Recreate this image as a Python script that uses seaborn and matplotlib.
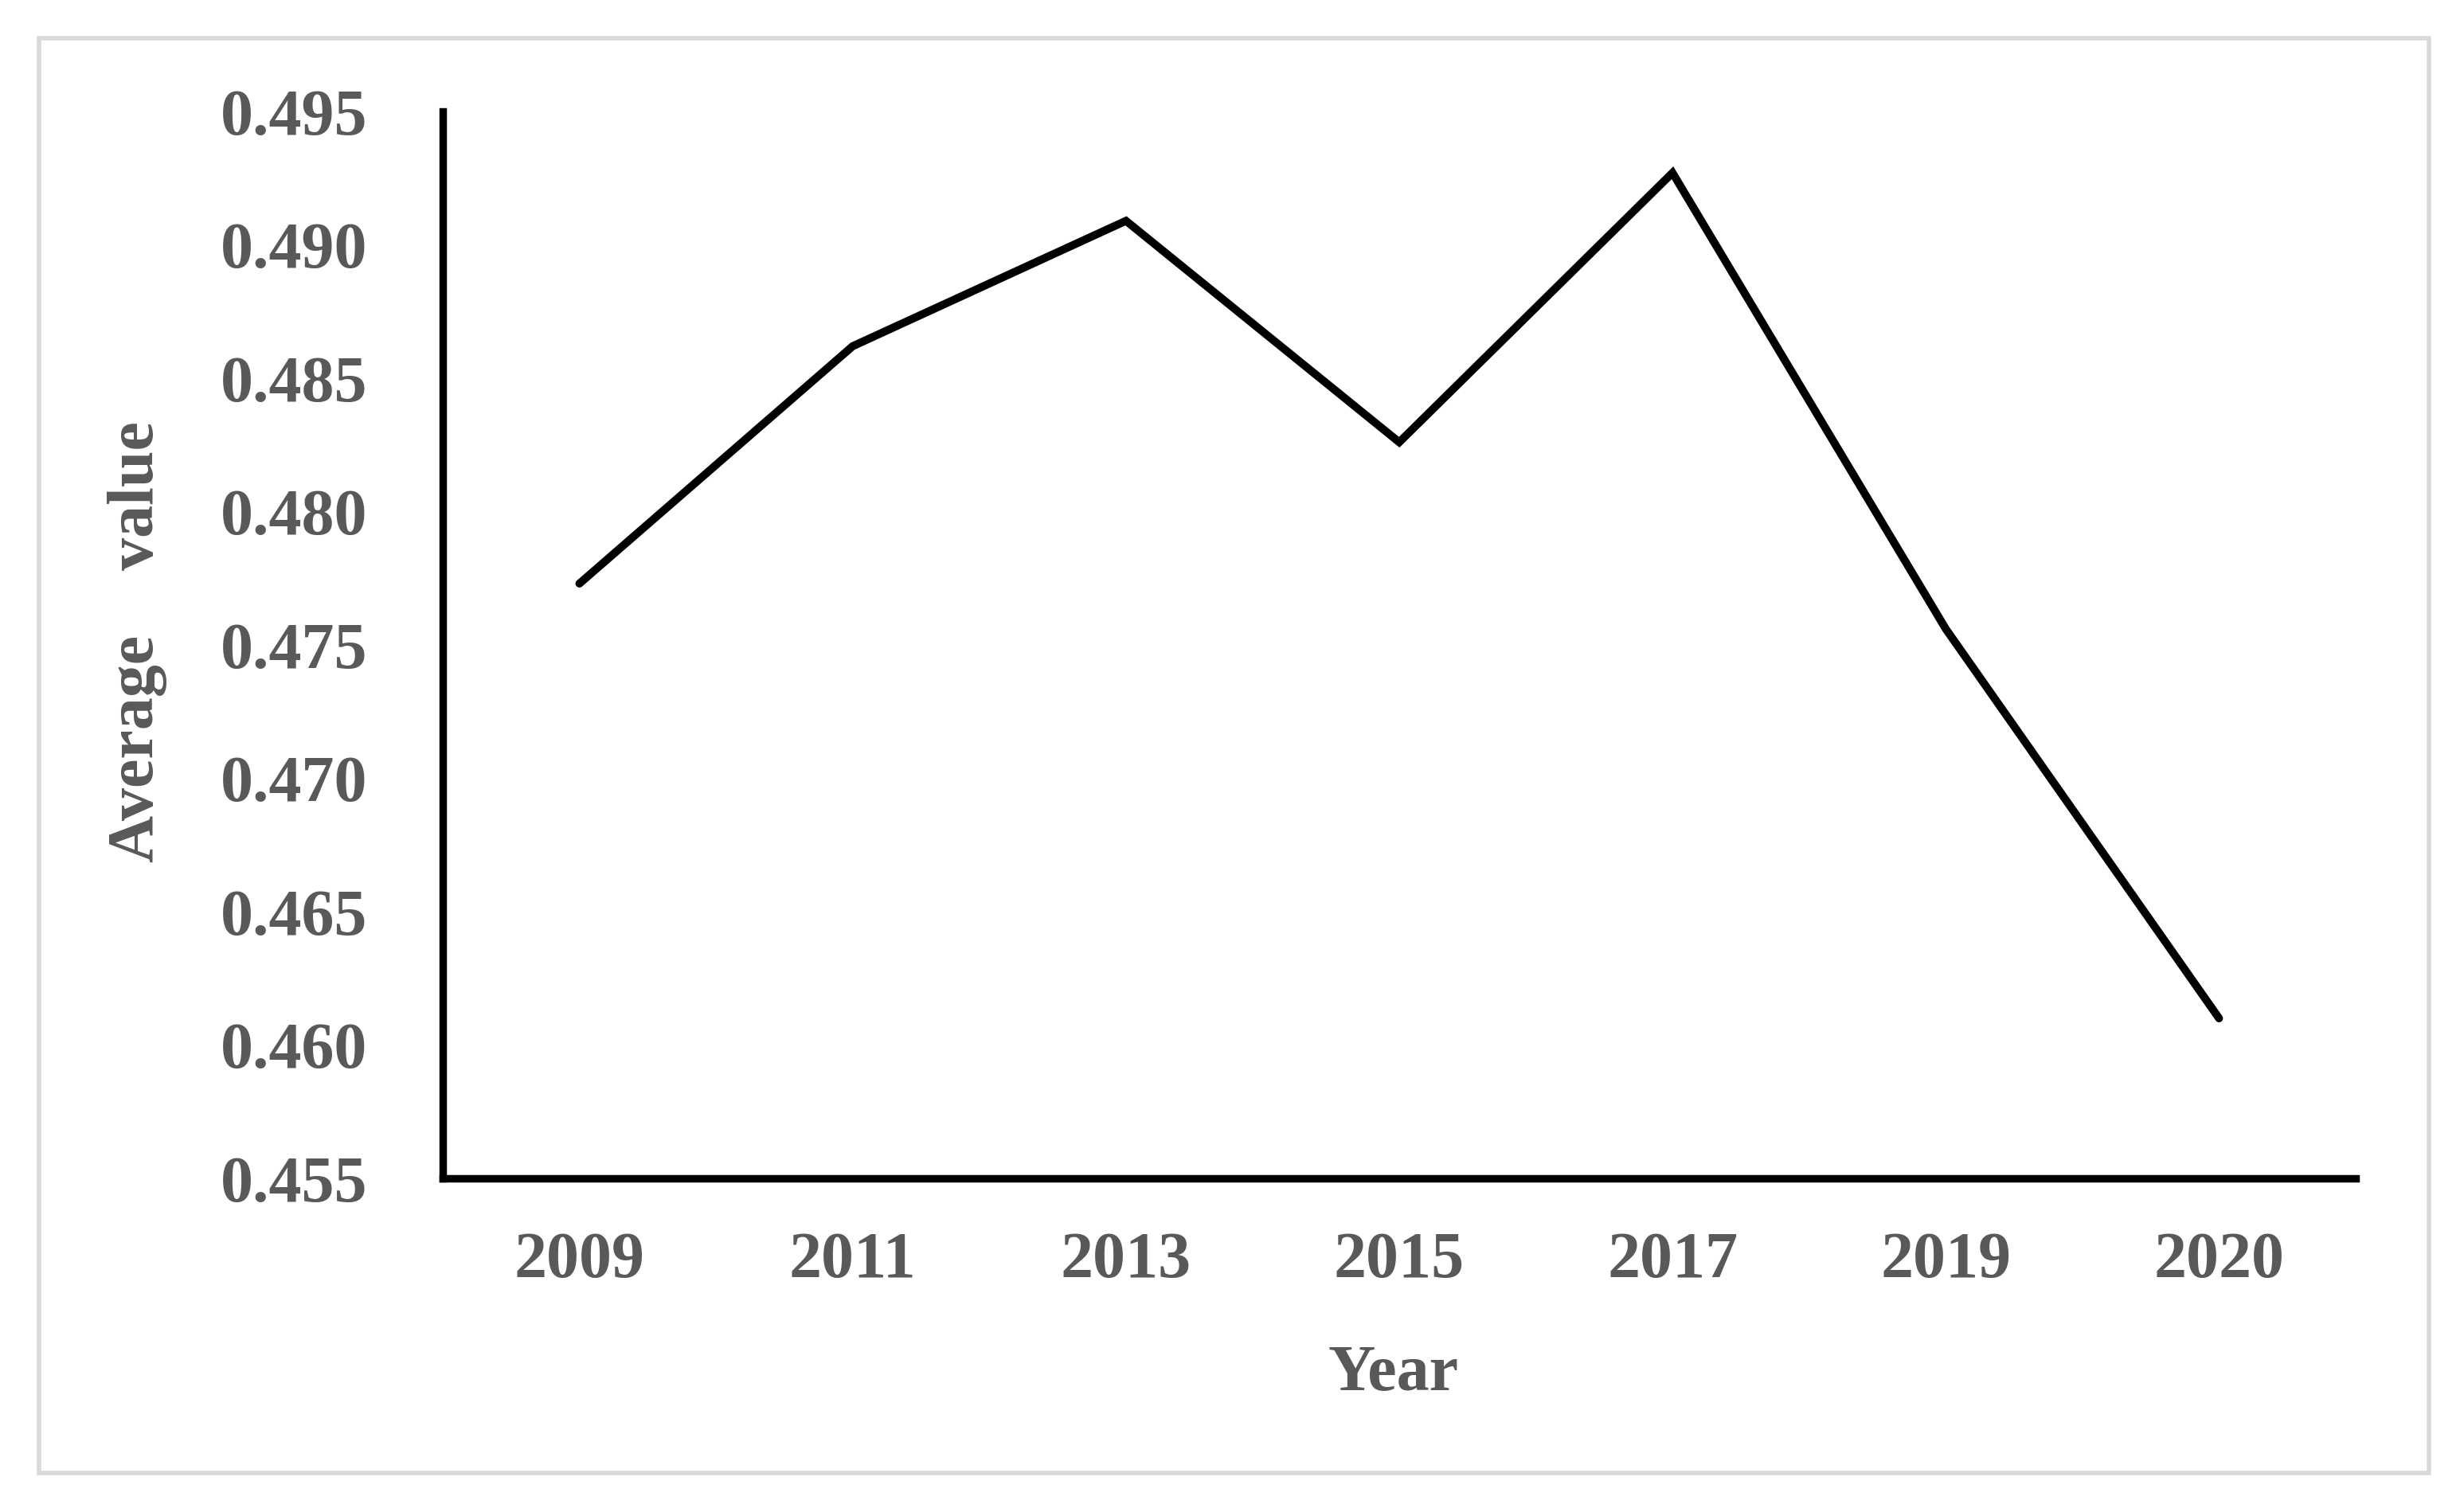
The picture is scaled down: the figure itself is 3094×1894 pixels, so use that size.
import matplotlib
matplotlib.use("Agg")
import matplotlib.pyplot as plt
import seaborn as sns
import pandas as pd
from matplotlib.patches import Rectangle

years = ["2009", "2011", "2013", "2015", "2017", "2019", "2020"]
values = [0.4773, 0.4862, 0.4909, 0.4826, 0.4927, 0.4756, 0.4610]
y_ticks = [0.455, 0.460, 0.465, 0.470, 0.475, 0.480, 0.485, 0.490, 0.495]

sns.set_theme(style="white")
plt.rcParams['font.family'] = ['Liberation Serif', 'DejaVu Serif']
plt.rcParams['font.weight'] = 'bold'

df = pd.DataFrame({"Year": years, "Value": values})

DPI = 200
W, H = 3094, 1894
AX_L, AX_R, AX_B, AX_T = 556, 2958, 1480, 140
fig = plt.figure(figsize=(W / DPI, H / DPI), dpi=DPI)
fig.patch.set_facecolor("white")
ax = fig.add_axes([AX_L / W, (H - AX_B) / H, (AX_R - AX_L) / W, (AX_B - AX_T) / H])

sns.lineplot(data=df, x="Year", y="Value", ax=ax, color="black", linewidth=3.6,
             solid_capstyle="round", solid_joinstyle="miter", sort=False)

ax.set_xlim(-0.5, len(years) - 0.5)
ax.set_ylim(0.455, 0.495)
ax.set_yticks(y_ticks)
ax.set_yticklabels([f"{v:.3f}" for v in y_ticks])

gray = "#595959"
fs = 29.5
ax.tick_params(axis="both", length=0, labelsize=fs, labelcolor=gray)
ax.tick_params(axis="y", pad=34)
ax.tick_params(axis="x", pad=24)
for lab in ax.get_xticklabels() + ax.get_yticklabels():
    lab.set_fontweight("bold")

ax.set_xlabel("Year", fontsize=fs, color=gray, fontweight="bold")
ax.set_ylabel("Average    value", fontsize=fs, color=gray, fontweight="bold")
ax.yaxis.set_label_coords(-(AX_L - 172) / (AX_R - AX_L), (AX_B - 806) / (AX_B - AX_T))
ax.xaxis.set_label_coords((1750 - AX_L) / (AX_R - AX_L), -(1726 - AX_B) / (AX_B - AX_T))
ax.xaxis.label.set_va("center")
ax.yaxis.label.set_va("center")

for s in ["top", "right"]:
    ax.spines[s].set_visible(False)
for s in ["left", "bottom"]:
    ax.spines[s].set_color("black")
    ax.spines[s].set_linewidth(3.4)
ax.grid(False)

border = Rectangle((49 / W, (H - 1850) / H), (3050 - 49) / W, (1850 - 48) / H,
                   transform=fig.transFigure, fill=False, edgecolor="#d9d9d9", linewidth=2.0)
fig.patches.append(border)

fig.savefig("out.png", dpi=DPI, facecolor="white")
